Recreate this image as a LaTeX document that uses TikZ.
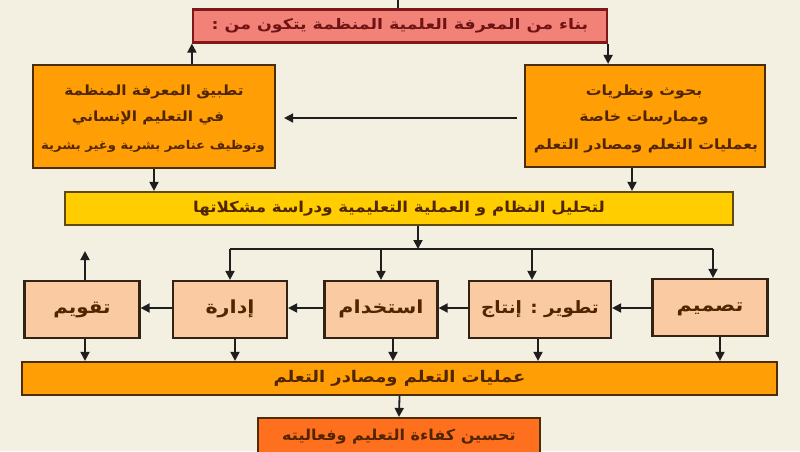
\documentclass[tikz,border=0pt]{standalone}
\usepackage{fontspec}
\usetikzlibrary{arrows.meta}
\TeXXeTstate=1
\newfontfamily\arabicfont[Script=Arabic]{DejaVu Sans}
\definecolor{bg}{RGB}{243,239,225}
\definecolor{pinkf}{RGB}{242,130,120}
\definecolor{pinkd}{RGB}{125,25,25}
\definecolor{pinkt}{RGB}{110,20,20}
\definecolor{orf}{RGB}{255,158,5}
\definecolor{ord}{RGB}{75,45,10}
\definecolor{ort}{RGB}{80,38,0}
\definecolor{yelf}{RGB}{255,205,0}
\definecolor{yeld}{RGB}{95,75,15}
\definecolor{pchf}{RGB}{250,202,162}
\definecolor{pchd}{RGB}{50,35,20}
\definecolor{redf}{RGB}{255,112,30}
\definecolor{linec}{RGB}{30,30,30}
\newcommand{\AR}[2]{{\arabicfont\bfseries\scalebox{#1}[1]{#2}}}
\begin{document}
\begin{tikzpicture}[x=1pt,y=-1pt,
  boxbase/.style={draw, line width=2.2pt, inner sep=0pt, align=center},
  pinkbox/.style={boxbase, fill=pinkf, draw=pinkd, text=pinkt},
  orbox/.style={boxbase, fill=orf, draw=ord, text=ort},
  yelbox/.style={boxbase, fill=yelf, draw=yeld, text=ort},
  pchbox/.style={boxbase, fill=pchf, draw=pchd, text=ort, minimum height=57pt, text height=13pt, text depth=5pt},
  redbox/.style={boxbase, fill=redf, draw=ord, text=ort},
  arr/.style={draw=linec, line width=1.8pt, -{Triangle[width=9pt,length=9pt]}},
  ln/.style={draw=linec, line width=1.8pt}
]
\fill[bg] (0,0) rectangle (800,451);
\useasboundingbox (0,0) rectangle (800,451);
\begin{scope}
\clip (0,0) rectangle (800,451);
% top pink
\node[pinkbox, minimum width=414pt, minimum height=33pt] (P) at (400,26)
  {\fontsize{14.5}{16}\selectfont\AR{1.2}{\beginR بناء من المعرفة العلمية المنظمة يتكون من :\endR}};
\coordinate (T) at (398,0);
% left / right orange
\node[orbox, minimum width=242pt, minimum height=103pt] (L) at (154,116.5) {};
\node[text=ort] at (154,92) {\fontsize{14}{16}\selectfont\AR{1.1}{\beginR تطبيق المعرفة المنظمة\endR}};
\node[text=ort] at (148,118) {\fontsize{14}{16}\selectfont\AR{1.1}{\beginR في التعليم الإنساني\endR}};
\node[text=ort] at (153,146) {\fontsize{12}{14}\selectfont\AR{1.1}{\beginR وتوظيف عناصر بشرية وغير بشرية\endR}};
\node[orbox, minimum width=240pt, minimum height=102pt] (R) at (645,116) {};
\node[text=ort] at (644,92) {\fontsize{14}{16}\selectfont\AR{1.12}{\beginR بحوث ونظريات\endR}};
\node[text=ort] at (644,118) {\fontsize{14}{16}\selectfont\AR{1.12}{\beginR وممارسات خاصة\endR}};
\node[text=ort] at (646,146) {\fontsize{14}{16}\selectfont\AR{1.12}{\beginR بعمليات التعلم ومصادر التعلم\endR}};
% yellow
\node[yelbox, minimum width=668pt, minimum height=33pt] (Y) at (399,208.5)
  {\fontsize{15}{17}\selectfont\AR{1.11}{\beginR لتحليل النظام و العملية التعليمية ودراسة مشكلاتها\endR}};
% row
\node[pchbox, minimum width=115pt] (B1) at (82,309.5) {\fontsize{18}{20}\selectfont\AR{1.1}{\beginR تقويم\endR}};
\node[pchbox, minimum width=114pt] (B2) at (230,309.5) {\fontsize{18}{20}\selectfont\AR{1.15}{\beginR إدارة\endR}};
\node[pchbox, minimum width=113pt] (B3) at (381,309.5) {\fontsize{18}{20}\selectfont\AR{1.15}{\beginR استخدام\endR}};
\node[pchbox, minimum width=142pt] (B4) at (540,309.5) {\fontsize{17}{19}\selectfont\AR{1.08}{\beginR تطوير : إنتاج\endR}};
\node[pchbox, minimum width=115pt] (B5) at (710,307.5) {\fontsize{18}{20}\selectfont\AR{1.15}{\beginR تصميم\endR}};
% bar
\node[orbox, minimum width=755pt, minimum height=33pt] (BAR) at (399.5,378.5)
  {\fontsize{16}{18}\selectfont\AR{1.12}{\beginR عمليات التعلم ومصادر التعلم\endR}};
% bottom
\node[redbox, minimum width=282pt, minimum height=44pt] (BOT) at (399,440) {};
\node[text=ort] at (399,437) {\fontsize{15}{17}\selectfont\AR{1.07}{\beginR تحسين كفاءة التعليم وفعاليته\endR}};
% connectors
\draw[ln] (P.north -| T) -- (T);
\draw[arr] (L.north -| P.south west) -- (P.south west);
\draw[arr] (P.south east) -- (P.south east |- R.north);
\draw[arr, shorten <=7pt, shorten >=8pt] (R.west |- 0,118) -- (L.east |- 0,118);
\draw[arr] (L.south) -- (L.south |- Y.north);
\draw[arr] ([xshift=-13pt]R.south) -- ([xshift=-13pt]R.south |- Y.north);
\coordinate (D) at (418,249);
\coordinate (DL) at (230,249);
\coordinate (DR) at (713,249);
\draw[arr] (Y.south -| D) -- (D);
\draw[ln] (DL) -- (DR);
\draw[arr] (DL) -- (B2.north -| DL);
\draw[arr] (381,249) -- (B3.north);
\draw[arr] (532,249) -- (B4.north -| 532,0);
\draw[arr] (DR) -- (B5.north -| DR);
\coordinate (U) at (85,251);
\draw[arr] (B1.north -| U) -- (U);
\coordinate (H) at (0,308);
\draw[arr] (B5.west |- H) -- (B4.east |- H);
\draw[arr] (B4.west |- H) -- (B3.east |- H);
\draw[arr] (B3.west |- H) -- (B2.east |- H);
\draw[arr] (B2.west |- H) -- (B1.east |- H);
\draw[arr] (B1.south -| U) -- (BAR.north -| U);
\draw[arr] ([xshift=5pt]B2.south) -- ([xshift=5pt]B2.south |- BAR.north);
\draw[arr] ([xshift=12pt]B3.south) -- ([xshift=12pt]B3.south |- BAR.north);
\draw[arr] ([xshift=-2pt]B4.south) -- ([xshift=-2pt]B4.south |- BAR.north);
\draw[arr] ([xshift=10pt]B5.south) -- ([xshift=10pt]B5.south |- BAR.north);
\draw[arr] (BAR.south) -- (BOT.north);
\end{scope}
\end{tikzpicture}
\end{document}
